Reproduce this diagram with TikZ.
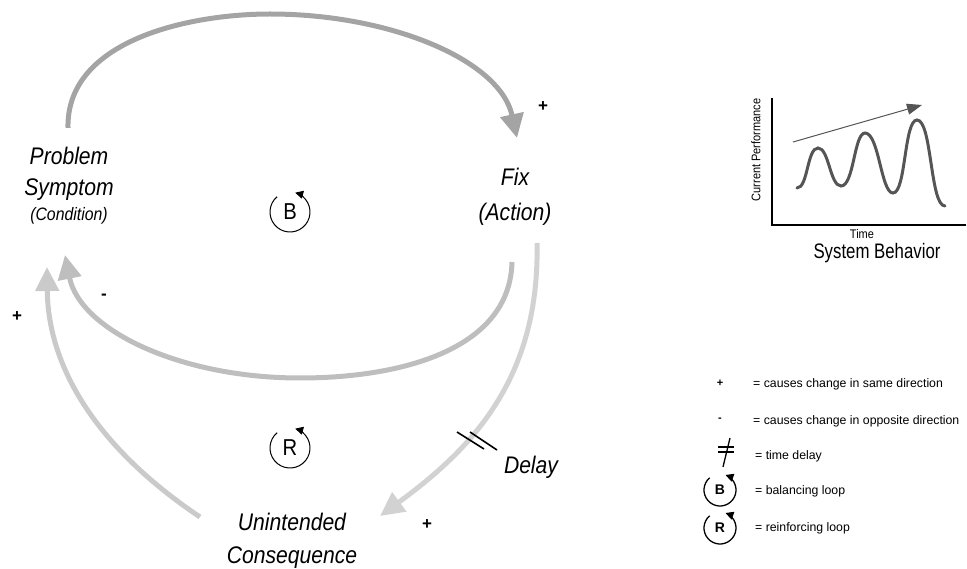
\documentclass[tikz,border=0pt]{standalone}
\usepackage{fontspec}
\setmainfont{Liberation Sans}
\newfontfamily\narrowfont[FakeStretch=0.88]{Liberation Sans}
\newfontfamily\condfont[FakeStretch=0.8]{Liberation Sans}
\usetikzlibrary{arrows.meta}
\definecolor{flowA}{HTML}{A4A4A4}
\definecolor{flowB}{HTML}{BEBEBE}
\definecolor{flowC}{HTML}{CACACA}
\definecolor{flowD}{HTML}{D2D2D2}
\definecolor{curve}{HTML}{555555}
\begin{document}
\begin{tikzpicture}[x=1pt,y=-1pt,
  lbl/.style={font=\narrowfont\fontsize{24}{26}\selectfont\itshape, anchor=base, inner sep=0pt},
  sublbl/.style={font=\narrowfont\fontsize{18}{20}\selectfont\itshape, anchor=base, inner sep=0pt},
  flow/.style={line width=5pt, -{Triangle[length=24pt,width=23pt]}},
  sign/.style={font=\fontsize{17}{17}\selectfont\bfseries, inner sep=0pt},
  loopletter/.style={font=\narrowfont\fontsize{23}{23}\selectfont, inner sep=0pt},
  legletter/.style={font=\fontsize{14}{14}\selectfont\bfseries, inner sep=0pt},
  looparc/.style={line width=1pt, -{Triangle[length=8pt,width=8pt]}},
  legarc/.style={line width=1.3pt, -{Triangle[length=8pt,width=8pt]}},
  legend/.style={font=\fontsize{12.3}{13}\selectfont, anchor=base west, inner sep=0pt},
  small/.style={font=\narrowfont\fontsize{12.5}{13}\selectfont, inner sep=0pt},
]
\useasboundingbox (0,0) rectangle (967,569);

% ---- variables
\node[lbl] (prob) at (69,165) {Problem};
\node[lbl] (symp) at (69,196) {Symptom};
\node[sublbl] (cond) at (69,221) {(Condition)};
\node[lbl] (fix) at (515,186) {Fix};
\node[lbl] (act) at (515,221) {(Action)};
\node[lbl] (unint) at (292,530) {Unintended};
\node[lbl] (conseq) at (292,563) {Consequence};
\node[lbl] (delay) at (531,473) {Delay};

% ---- connector end points
\coordinate (probTop) at (68,128);
\coordinate (fixTop) at (517,138);
\coordinate (fixOutA) at (512,262);
\coordinate (fixOutB) at (537,243);
\coordinate (probInA) at (65,255);
\coordinate (probInB) at (47,267);
\coordinate (unintOut) at (200,517);
\coordinate (unintIn) at (380,516);

% ---- causal links
\draw[flow, flowC] (unintOut) .. controls (100,450) and (48,370) .. (probInB);
\draw[flow, flowD] (fixOutB) .. controls (540,380) and (470,450) .. (unintIn);
\draw[flow, flowB] (fixOutA) .. controls (510,350) and (400,378) .. (300,378)
  .. controls (180,378) and (80,330) .. (probInA);
\draw[flow, flowA] (probTop) .. controls (66,40) and (190,14) .. (270,14)
  .. controls (390,14) and (500,60) .. (fixTop);

% delay marks
\draw[line width=1.6pt] (457,432) -- (484,449);
\draw[line width=1.6pt] (470,432) -- (497,450);

% polarity signs
\node[sign] (s1) at (543,107) {+};
\node[sign] (s2) at (104,297) {-};
\node[sign] (s3) at (17,317) {+};
\node[sign] (s4) at (427,525) {+};

% ---- loop markers
\node[loopletter] (loopB) at (290,212) {B};
\draw[looparc] ([shift={(-130:20)}]loopB.center) arc[start angle=-130, end angle=-435, radius=20];
\node[loopletter] (loopR) at (290,448) {R};
\draw[looparc] ([shift={(-130:20)}]loopR.center) arc[start angle=-130, end angle=-435, radius=20];

% ---- system behaviour chart
\draw[line width=2.2pt] (772,98) -- (772,225) -- (966,225);
\draw[line width=3pt, curve, line cap=round]
  (797,188) .. controls (808,188) and (807,148) .. (818,148)
  .. controls (829,148) and (830,186) .. (841,186)
  .. controls (854,186) and (854,133) .. (865,133)
  .. controls (879,133) and (881,193) .. (893,193)
  .. controls (906,193) and (904,120) .. (917,120)
  .. controls (932,120) and (930,206) .. (945,206);
\coordinate (trendS) at (793,142);
\coordinate (trendE) at (922,105);
\draw[line width=1pt, curve, -{Triangle[length=15pt,width=11pt]}] (trendS) -- (trendE);
\node[small, rotate=90] (ylab) at (756,150) {Current Performance};
\node[small] (xlab) at (862,234) {Time};
\node[font=\condfont\fontsize{21}{22}\selectfont, inner sep=0pt] (ctitle) at (877,253) {System Behavior};

% ---- legend
\node[sign, font=\fontsize{11}{11}\selectfont\bfseries] (kplus) at (720,383) {+};
\node[sign, font=\fontsize{11}{11}\selectfont\bfseries] (kminus) at (720,420) {-};
\node[legend] (t1) at (753,387.5) {= causes change in same direction};
\node[legend] (t2) at (753,424.5) {= causes change in opposite direction};
\draw[line width=1.1pt] (718,447) -- (734,447);
\draw[line width=1.1pt] (718,452) -- (734,452);
\draw[line width=1.3pt] (730,438) -- (723,467);
\node[legend] (t3) at (755,459.5) {= time delay};
\node[legletter] (kB) at (720,490) {B};
\draw[legarc] ([shift={(-130:16)}]kB.center) arc[start angle=-130, end angle=-430, radius=16];
\node[legend] (t4) at (755,494.5) {= balancing loop};
\node[legletter] (kR) at (720,528) {R};
\draw[legarc] ([shift={(-130:16)}]kR.center) arc[start angle=-130, end angle=-430, radius=16];
\node[legend] (t5) at (755,531.5) {= reinforcing loop};
\end{tikzpicture}
\end{document}
